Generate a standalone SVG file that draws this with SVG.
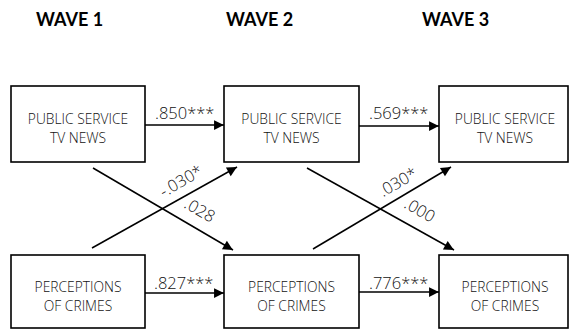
<svg xmlns="http://www.w3.org/2000/svg" width="570" height="330" viewBox="0 0 570 330">
<style>
.box{fill:#fff;stroke:#000;stroke-width:1.6}
.t{font-family:"Open Sans","Liberation Sans",sans-serif;font-weight:300;font-size:13.8px;fill:#111;text-anchor:middle}
.h{font-family:Lato,"Liberation Sans",sans-serif;font-weight:bold;font-size:18px;fill:#000;text-anchor:middle}
.l{font-family:"Open Sans","Liberation Sans",sans-serif;font-weight:300;font-size:16.5px;fill:#111}
.c{stroke:#000;stroke-width:1.5;fill:none;marker-end:url(#ah)}
</style>
<defs>
<marker id="ah" viewBox="0 0 10 10" refX="10" refY="5" markerWidth="7" markerHeight="7" markerUnits="userSpaceOnUse" orient="auto" style="overflow:visible">
<path d="M0,0 L10,5 L0,10 z" fill="#000" transform="scale(1.4) translate(-3,-1.4)"/>
</marker>
</defs>
<g id="headers">
<text class="h" x="69.5" y="26">WAVE 1</text>
<text class="h" x="259.5" y="26">WAVE 2</text>
<text class="h" x="455.5" y="26">WAVE 3</text>
</g>
<g id="tv1"><rect class="box" x="11" y="86" width="134" height="76"/><text class="t" x="78" y="124">PUBLIC SERVICE</text><text class="t" x="78" y="143">TV NEWS</text></g>
<g id="tv2"><rect class="box" x="224" y="86" width="135" height="76"/><text class="t" x="291.5" y="124">PUBLIC SERVICE</text><text class="t" x="291.5" y="143">TV NEWS</text></g>
<g id="tv3"><rect class="box" x="439" y="86" width="129" height="76"/><text class="t" x="505" y="124">PUBLIC SERVICE</text><text class="t" x="505" y="143">TV NEWS</text></g>
<g id="pc1"><rect class="box" x="11" y="255" width="134" height="73"/><text class="t" x="78" y="292">PERCEPTIONS</text><text class="t" x="78" y="311">OF CRIMES</text></g>
<g id="pc2"><rect class="box" x="224" y="255" width="135" height="73"/><text class="t" x="291.5" y="292">PERCEPTIONS</text><text class="t" x="291.5" y="311">OF CRIMES</text></g>
<g id="pc3"><rect class="box" x="439" y="255" width="129" height="73"/><text class="t" x="505" y="292">PERCEPTIONS</text><text class="t" x="505" y="311">OF CRIMES</text></g>
<g id="connectors">
<line class="c" x1="145" y1="125" x2="224" y2="125"/>
<line class="c" x1="359" y1="126" x2="439" y2="126"/>
<line class="c" x1="145" y1="293" x2="224" y2="293"/>
<line class="c" x1="359" y1="292" x2="439" y2="292"/>
<line class="c" x1="93" y1="168" x2="233" y2="250"/>
<line class="c" x1="92" y1="248" x2="237" y2="167"/>
<line class="c" x1="307" y1="168" x2="454" y2="250"/>
<line class="c" x1="313" y1="249" x2="451" y2="167"/>
<text class="l" x="155" y="119">.850***</text>
<text class="l" x="369" y="119">.569***</text>
<text class="l" x="154" y="289">.827***</text>
<text class="l" x="369" y="289">.776***</text>
<text class="l" text-anchor="middle" transform="translate(184,186) rotate(-30)">-.030*</text>
<text class="l" text-anchor="middle" transform="translate(197,215) rotate(30)">.028</text>
<text class="l" text-anchor="middle" transform="translate(401,187) rotate(-30)">.030*</text>
<text class="l" text-anchor="middle" transform="translate(417,215) rotate(30)">.000</text>
</g>
</svg>
